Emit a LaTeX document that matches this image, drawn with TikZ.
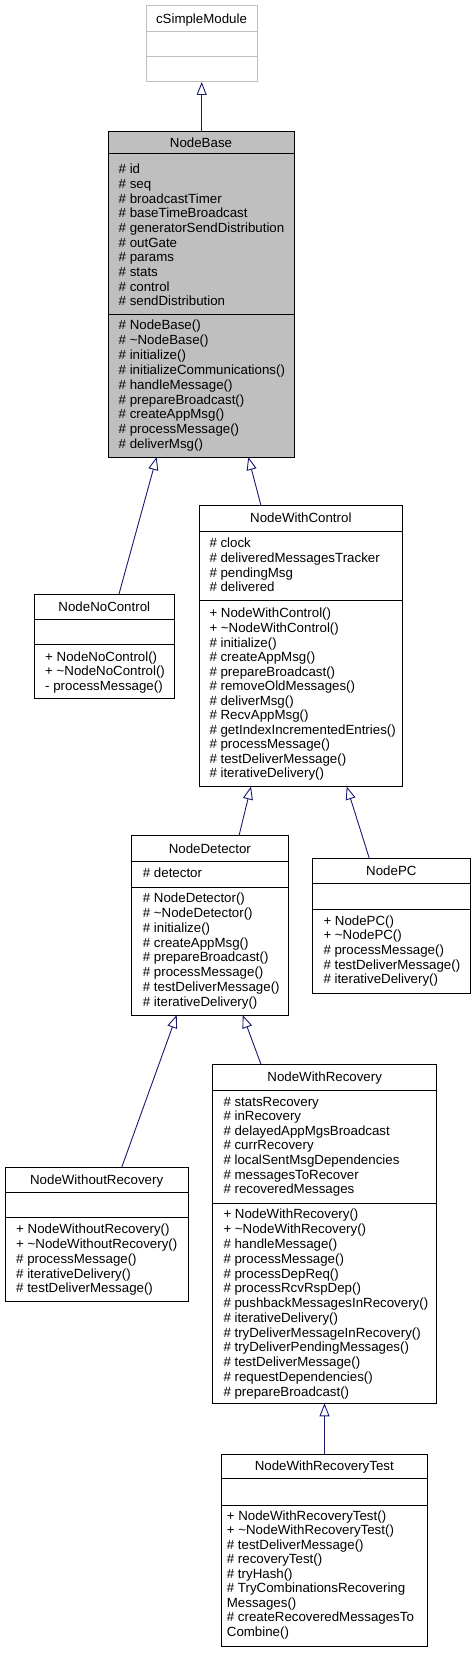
\documentclass[tikz,border=0pt]{standalone}
\usepackage{fontspec}
\setmainfont{Liberation Sans}
\usetikzlibrary{arrows.meta}
\definecolor{grey75}{RGB}{191,191,191}
\definecolor{midblue}{RGB}{25,25,112}
\newcommand\mkbox[9]{%
  \node[box,#9,minimum width={(#3-#2)*1pt},minimum height={(#7-#4)*1pt}] (#1) at ({(#2+#3)/2},{(#4+#7)/2}) {};
  \draw[sep,#9] (#1.west |- 0,#5) -- (#1.east |- 0,#5);
  \draw[sep,#9] (#1.west |- 0,#6) -- (#1.east |- 0,#6);
  \node[ttl] (#1-t) at ({(#2+#3)/2},{(#4+#5)/2+4.6}) {#8};
}
\newcommand\mklines[5]{%
  \foreach \s [count=\i from 0] in {#5} {\node[txt] (#1\i) at (#2,{#3+\i*#4+4.6}) {\s};}
}
\begin{document}
\begin{tikzpicture}[x=1pt,y=-1pt,
  box/.style={draw=black,line width=1pt,fill=white,inner sep=0pt,outer sep=0pt},
  sep/.style={draw=black,line width=1pt},
  txt/.style={anchor=base west,inner sep=0pt,font=\fontsize{13.3}{15}\selectfont,text=black},
  ttl/.style={anchor=base,inner sep=0pt,font=\fontsize{13.3}{15}\selectfont,text=black},
  inh/.style={draw=midblue,line width=0.9pt,-{Triangle[open,length=13pt,width=10pt,fill=white]}}]
\useasboundingbox (0,0) rectangle (475,1653);

% cSimpleModule
\mkbox{cs}{146}{257}{6}{32}{57}{82}{cSimpleModule}{draw=grey75}

% NodeBase
\mkbox{nb}{108}{294}{132}{154}{314}{457}{NodeBase}{fill=grey75}
\mklines{nba}{118.5}{169.3}{14.66}{\# id, \# seq, \# broadcastTimer, \# baseTimeBroadcast, \# generatorSendDistribution, \# outGate, \# params, \# stats, \# control, \# sendDistribution}
\mklines{nbm}{118.5}{325}{14.88}{\# NodeBase(), \# \textasciitilde NodeBase(), \# initialize(), \# initializeCommunications(), \# handleMessage(), \# prepareBroadcast(), \# createAppMsg(), \# processMessage(), \# deliverMsg()}

% NodeNoControl
\mkbox{nnc}{34.3}{174.3}{594}{619}{644.5}{698}{NodeNoControl}{}
\mklines{nncm}{45}{656.5}{14.6}{+ NodeNoControl(), + \textasciitilde NodeNoControl(), - processMessage()}

% NodeWithControl
\mkbox{nwc}{199}{402.7}{505.7}{531}{600.7}{786.5}{NodeWithControl}{}
\mklines{nwca}{209.3}{542.5}{14.95}{\# clock, \# deliveredMessagesTracker, \# pendingMsg, \# delivered}
\mklines{nwcm}{209.3}{613.3}{14.55}{+ NodeWithControl(), + \textasciitilde NodeWithControl(), \# initialize(), \# createAppMsg(), \# prepareBroadcast(), \# removeOldMessages(), \# deliverMsg(), \# RecvAppMsg(), \# getIndexIncrementedEntries(), \# processMessage(), \# testDeliverMessage(), \# iterativeDelivery()}

% NodeDetector
\mkbox{nd}{131}{288.7}{835.7}{861.7}{887}{1015}{NodeDetector}{}
\mklines{nda}{142.7}{873.3}{14.7}{\# detector}
\mklines{ndm}{142.7}{898.3}{14.77}{\# NodeDetector(), \# \textasciitilde NodeDetector(), \# initialize(), \# createAppMsg(), \# prepareBroadcast(), \# processMessage(), \# testDeliverMessage(), \# iterativeDelivery()}

% NodePC
\mkbox{npc}{312.7}{470}{858.3}{883.8}{909.3}{993.3}{NodePC}{}
\mklines{npcm}{323.3}{920.5}{14.7}{+ NodePC(), + \textasciitilde NodePC(), \# processMessage(), \# testDeliverMessage(), \# iterativeDelivery()}

% NodeWithoutRecovery
\mkbox{nwor}{5}{188.3}{1167.3}{1192.7}{1217.7}{1301.7}{NodeWithoutRecovery}{}
\mklines{nworm}{16}{1229.3}{14.75}{+ NodeWithoutRecovery(), + \textasciitilde NodeWithoutRecovery(), \# processMessage(), \# iterativeDelivery(), \# testDeliverMessage()}

% NodeWithRecovery
\mkbox{nwr}{212.7}{436.7}{1064.3}{1090}{1203}{1403.3}{NodeWithRecovery}{}
\mklines{nwra}{223.3}{1101.7}{14.55}{\# statsRecovery, \# inRecovery, \# delayedAppMgsBroadcast, \# currRecovery, \# localSentMsgDependencies, \# messagesToRecover, \# recoveredMessages}
\mklines{nwrm}{223.3}{1214.3}{14.78}{+ NodeWithRecovery(), + \textasciitilde NodeWithRecovery(), \# handleMessage(), \# processMessage(), \# processDepReq(), \# processRcvRspDep(), \# pushbackMessagesInRecovery(), \# iterativeDelivery(), \# tryDeliverMessageInRecovery(), \# tryDeliverPendingMessages(), \# testDeliverMessage(), \# requestDependencies(), \# prepareBroadcast()}

% NodeWithRecoveryTest
\mkbox{nwrt}{221}{427.6}{1454.3}{1478.3}{1505}{1646}{NodeWithRecoveryTest}{}
\mklines{nwrtm}{226.7}{1515.7}{14.5}{+ NodeWithRecoveryTest(), + \textasciitilde NodeWithRecoveryTest(), \# testDeliverMessage(), \# recoveryTest(), \# tryHash(), \# TryCombinationsRecovering, Messages(), \# createRecoveredMessagesTo, Combine()}

% inheritance connectors
\draw[inh] (nb.north -| 201.7,0) -- (cs.south -| 201.7,0);
\draw[inh] (nnc.north -| 119,0) -- (nb.south -| 156.7,0);
\draw[inh] (nwc.north -| 261,0) -- (nb.south -| 248.3,0);
\draw[inh] (nd.north -| 239,0) -- (nwc.south -| 251,0);
\draw[inh] (npc.north -| 369.3,0) -- (nwc.south -| 346.7,0);
\draw[inh] (nwor.north -| 121.7,0) -- (nd.south -| 176.7,0);
\draw[inh] (nwr.north -| 261,0) -- (nd.south -| 242.7,0);
\draw[inh] (nwrt.north -| 324.5,0) -- (nwr.south -| 324.5,0);
\end{tikzpicture}
\end{document}
